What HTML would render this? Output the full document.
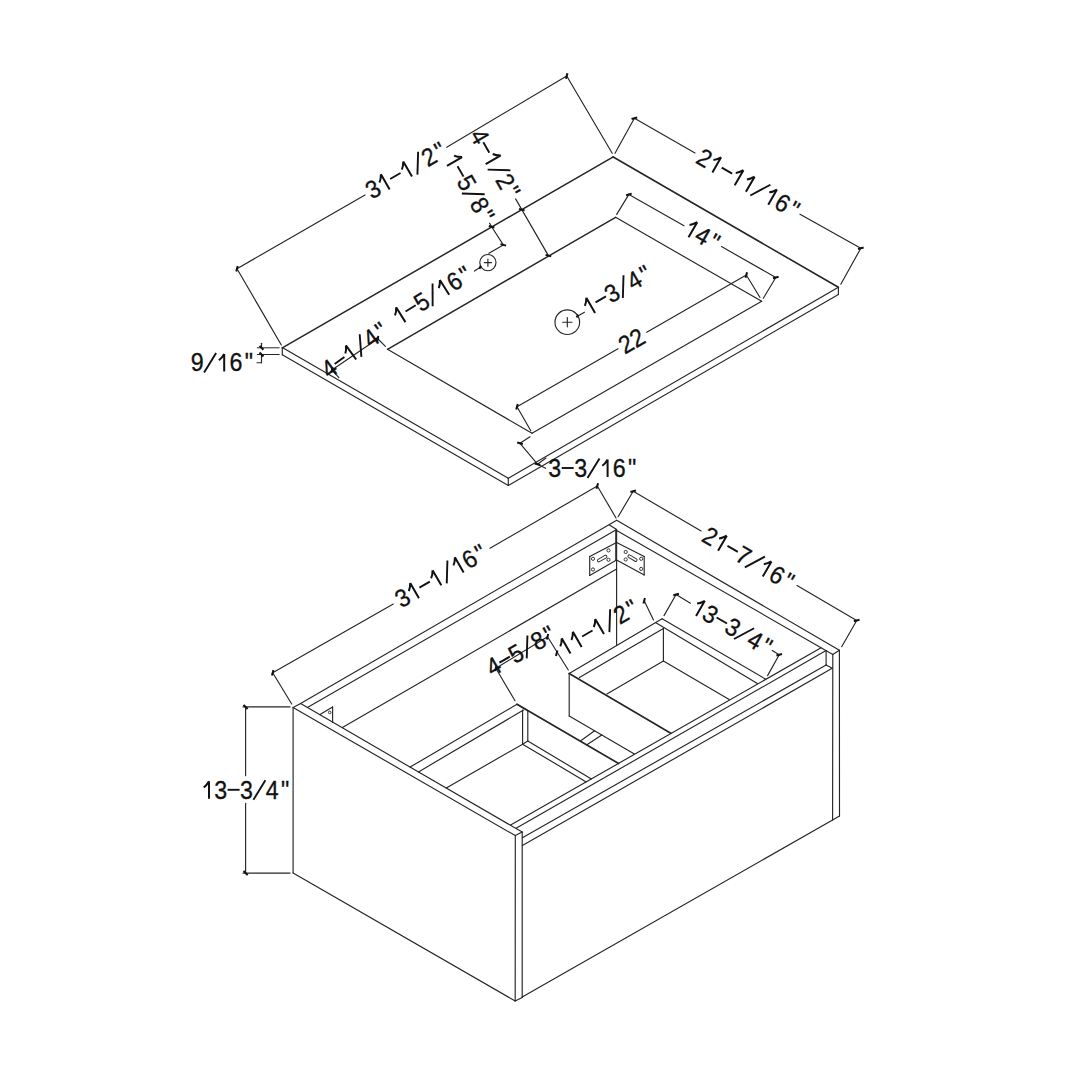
<!DOCTYPE html><html><head><meta charset="utf-8"><style>html,body{margin:0;padding:0;background:#fff;width:1080px;height:1080px;overflow:hidden}svg{display:block}text{font-family:"Liberation Sans",sans-serif;fill:#111;stroke:#111;stroke-width:0.3px}</style></head><body>
<svg width="1080" height="1080" viewBox="0 0 1080 1080">
<rect width="1080" height="1080" fill="#fff"/>
<g stroke="#262626" stroke-width="1.15" stroke-linecap="round" fill="none">
<line x1="282.30" y1="347.90" x2="612.80" y2="157.10" stroke-width="1.50"/>
<line x1="612.80" y1="156.80" x2="838.40" y2="287.30" stroke-width="1.60"/>
<line x1="282.30" y1="347.60" x2="508.30" y2="478.30"/>
<line x1="508.30" y1="478.30" x2="838.40" y2="287.30"/>
<line x1="282.30" y1="347.60" x2="282.30" y2="354.80"/>
<line x1="282.30" y1="354.80" x2="508.30" y2="485.50"/>
<line x1="508.30" y1="478.30" x2="508.30" y2="485.50"/>
<line x1="508.30" y1="485.50" x2="838.40" y2="294.50"/>
<line x1="838.40" y1="287.30" x2="838.40" y2="294.50"/>
<line x1="387.50" y1="349.30" x2="615.60" y2="217.30" stroke-width="1.45"/>
<line x1="615.60" y1="217.30" x2="761.70" y2="301.30"/>
<line x1="761.70" y1="301.30" x2="532.00" y2="433.30"/>
<line x1="532.00" y1="433.30" x2="387.50" y2="349.30"/>
<line x1="484.30" y1="262.60" x2="491.50" y2="262.60"/>
<line x1="487.90" y1="259.00" x2="487.90" y2="266.20"/>
<line x1="562.70" y1="322.20" x2="571.90" y2="322.20"/>
<line x1="567.30" y1="317.60" x2="567.30" y2="326.80"/>
<line x1="237.00" y1="268.70" x2="365.00" y2="195.00"/>
<line x1="446.70" y1="147.30" x2="566.70" y2="76.00"/>
<line x1="281.30" y1="345.00" x2="237.00" y2="268.70"/>
<line x1="566.70" y1="76.00" x2="612.20" y2="153.30"/>
<line x1="634.40" y1="118.20" x2="695.00" y2="153.00"/>
<line x1="800.00" y1="214.20" x2="860.80" y2="248.30"/>
<line x1="615.00" y1="153.30" x2="634.40" y2="118.20"/>
<line x1="860.80" y1="248.30" x2="840.80" y2="284.20"/>
<line x1="548.40" y1="255.60" x2="515.60" y2="198.90"/>
<line x1="491.60" y1="226.70" x2="503.30" y2="244.90"/>
<line x1="503.30" y1="244.90" x2="488.90" y2="253.30"/>
<line x1="491.60" y1="226.70" x2="489.60" y2="223.20"/>
<line x1="481.10" y1="266.70" x2="474.40" y2="271.10"/>
<line x1="576.70" y1="316.70" x2="584.40" y2="312.20"/>
<line x1="628.90" y1="194.40" x2="684.00" y2="225.80"/>
<line x1="721.50" y1="246.60" x2="775.80" y2="277.50"/>
<line x1="616.70" y1="214.40" x2="628.90" y2="194.40"/>
<line x1="775.80" y1="277.50" x2="763.30" y2="298.30"/>
<line x1="517.00" y1="406.70" x2="618.00" y2="348.80"/>
<line x1="646.70" y1="332.20" x2="746.30" y2="275.00"/>
<line x1="530.80" y1="430.80" x2="517.00" y2="406.70"/>
<line x1="746.30" y1="275.00" x2="760.00" y2="297.50"/>
<line x1="520.00" y1="443.30" x2="530.00" y2="436.70"/>
<line x1="520.00" y1="443.30" x2="537.50" y2="464.20"/>
<line x1="537.50" y1="464.20" x2="546.00" y2="458.00"/>
<line x1="537.50" y1="464.20" x2="545.60" y2="468.30"/>
<line x1="257.30" y1="347.80" x2="279.20" y2="347.80" stroke-width="1.00"/>
<line x1="257.30" y1="354.50" x2="279.20" y2="354.50" stroke-width="1.00"/>
<line x1="261.50" y1="343.30" x2="261.50" y2="347.80"/>
<line x1="261.50" y1="354.50" x2="261.50" y2="362.70"/>
<line x1="257.00" y1="362.70" x2="261.50" y2="362.70"/>
<line x1="331.90" y1="370.00" x2="377.80" y2="338.75"/>
<line x1="331.90" y1="370.00" x2="338.90" y2="377.60"/>
<line x1="377.80" y1="338.75" x2="385.40" y2="346.40"/>
<line x1="293.10" y1="707.50" x2="293.10" y2="873.00"/>
<line x1="293.10" y1="873.00" x2="515.20" y2="1001.00"/>
<line x1="293.10" y1="707.50" x2="515.30" y2="835.60"/>
<line x1="293.10" y1="707.50" x2="300.60" y2="703.60"/>
<line x1="300.60" y1="703.60" x2="522.20" y2="832.10"/>
<line x1="515.30" y1="835.60" x2="522.20" y2="832.10"/>
<line x1="515.30" y1="835.60" x2="515.20" y2="1001.00"/>
<line x1="522.20" y1="832.10" x2="522.20" y2="997.50"/>
<line x1="515.20" y1="1001.00" x2="522.20" y2="997.50"/>
<line x1="522.20" y1="997.00" x2="832.60" y2="820.00"/>
<line x1="839.40" y1="650.20" x2="839.50" y2="816.10"/>
<line x1="832.80" y1="654.40" x2="832.60" y2="820.00"/>
<line x1="832.60" y1="820.00" x2="839.50" y2="816.10"/>
<line x1="839.40" y1="650.20" x2="832.80" y2="654.40"/>
<line x1="616.70" y1="520.30" x2="839.40" y2="650.20"/>
<line x1="615.80" y1="530.00" x2="832.80" y2="654.40"/>
<line x1="300.60" y1="703.60" x2="616.70" y2="520.30"/>
<line x1="307.40" y1="707.50" x2="615.80" y2="530.00"/>
<line x1="342.40" y1="727.60" x2="616.60" y2="568.90"/>
<line x1="616.60" y1="530.00" x2="616.60" y2="645.50"/>
<line x1="609.40" y1="525.00" x2="616.70" y2="529.40"/>
<line x1="615.50" y1="530.00" x2="615.50" y2="560.00" stroke-width="0.80"/>
<line x1="826.10" y1="650.60" x2="826.10" y2="665.00"/>
<line x1="510.60" y1="825.00" x2="821.10" y2="647.80"/>
<line x1="516.10" y1="828.30" x2="826.10" y2="650.60"/>
<line x1="522.40" y1="837.80" x2="826.10" y2="665.00"/>
<line x1="522.40" y1="845.60" x2="832.20" y2="668.30"/>
<line x1="826.10" y1="665.00" x2="832.20" y2="668.30"/>
<line x1="320.00" y1="714.60" x2="332.60" y2="706.90"/>
<line x1="332.60" y1="706.90" x2="332.60" y2="722.40"/>
<line x1="410.10" y1="767.10" x2="517.00" y2="704.30"/>
<line x1="418.50" y1="771.90" x2="523.50" y2="710.00"/>
<line x1="446.30" y1="787.90" x2="522.60" y2="744.20"/>
<line x1="522.60" y1="710.10" x2="522.60" y2="744.20"/>
<line x1="527.80" y1="710.70" x2="527.80" y2="741.00"/>
<line x1="517.00" y1="704.30" x2="618.60" y2="763.50" stroke-width="1.70"/>
<line x1="522.60" y1="744.20" x2="586.20" y2="781.90"/>
<line x1="527.80" y1="741.00" x2="591.40" y2="779.00"/>
<line x1="522.60" y1="744.20" x2="527.80" y2="741.00"/>
<line x1="517.00" y1="704.30" x2="527.80" y2="710.70"/>
<line x1="569.20" y1="673.50" x2="569.20" y2="716.00"/>
<line x1="569.20" y1="716.00" x2="634.40" y2="754.00"/>
<line x1="569.20" y1="673.50" x2="670.80" y2="733.20" stroke-width="1.70"/>
<line x1="569.20" y1="673.50" x2="662.10" y2="618.80"/>
<line x1="579.40" y1="677.60" x2="663.40" y2="628.50"/>
<line x1="662.10" y1="618.80" x2="765.70" y2="679.20"/>
<line x1="655.90" y1="622.70" x2="757.40" y2="683.50"/>
<line x1="663.40" y1="628.50" x2="663.40" y2="661.00"/>
<line x1="663.40" y1="661.00" x2="606.90" y2="694.00"/>
<line x1="663.40" y1="661.00" x2="729.20" y2="699.50"/>
<line x1="580.40" y1="741.00" x2="594.60" y2="730.80"/>
<line x1="586.90" y1="744.80" x2="601.80" y2="734.90"/>
<line x1="568.30" y1="670.00" x2="547.50" y2="636.70"/>
<line x1="495.80" y1="668.30" x2="547.50" y2="636.70"/>
<line x1="495.80" y1="668.30" x2="515.00" y2="700.80"/>
<line x1="644.20" y1="600.80" x2="653.50" y2="620.00"/>
<line x1="676.10" y1="594.50" x2="690.40" y2="603.20"/>
<line x1="772.20" y1="650.60" x2="779.20" y2="654.80"/>
<line x1="664.00" y1="615.60" x2="676.10" y2="594.50"/>
<line x1="779.20" y1="654.80" x2="767.60" y2="675.60"/>
<line x1="272.70" y1="672.70" x2="393.30" y2="604.00"/>
<line x1="490.00" y1="548.30" x2="597.30" y2="486.00"/>
<line x1="291.70" y1="704.00" x2="272.70" y2="672.70"/>
<line x1="597.30" y1="486.00" x2="616.00" y2="518.00"/>
<line x1="633.20" y1="491.30" x2="701.10" y2="530.90"/>
<line x1="797.00" y1="585.40" x2="856.70" y2="620.50"/>
<line x1="618.10" y1="516.70" x2="633.20" y2="491.30"/>
<line x1="856.70" y1="620.50" x2="841.70" y2="646.70"/>
<line x1="245.60" y1="706.90" x2="245.60" y2="775.70"/>
<line x1="245.60" y1="803.20" x2="245.60" y2="873.10"/>
<line x1="243.00" y1="706.90" x2="290.00" y2="706.90"/>
<line x1="243.00" y1="873.10" x2="290.00" y2="873.10"/>
<line x1="616.60" y1="542.60" x2="589.70" y2="556.60"/>
<line x1="589.70" y1="556.60" x2="589.70" y2="575.40"/>
<line x1="589.70" y1="575.40" x2="616.60" y2="560.10"/>
<line x1="616.60" y1="542.60" x2="644.20" y2="556.60"/>
<line x1="644.20" y1="556.60" x2="644.20" y2="575.00"/>
<line x1="644.20" y1="575.00" x2="616.60" y2="560.10"/>
</g>
<g stroke-width="1.15">
<circle cx="487.90" cy="262.60" r="8.10" fill="none" stroke="#262626" stroke-width="1.15"/>
<circle cx="567.30" cy="322.20" r="12.30" fill="none" stroke="#262626" stroke-width="1.15"/>
<line x1="236.26" y1="271.51" x2="237.74" y2="265.89" stroke="#111" stroke-width="2.00" stroke-linecap="butt"/>
<line x1="565.96" y1="78.81" x2="567.44" y2="73.19" stroke="#111" stroke-width="2.00" stroke-linecap="butt"/>
<g transform="translate(406.50 169.50) rotate(-30.0)"><text transform="translate(-38.70 8.90) scale(0.93 1)" text-anchor="middle" font-size="25">3</text><path d="M-24.60 8.90 L-24.60 -8.60 M-24.60 -8.60 Q-27.00 -4.30 -29.90 -2.30" fill="none" stroke="#111" stroke-width="2.0" stroke-linecap="butt"/><line x1="-18.90" y1="0" x2="-6.90" y2="0" stroke="#111" stroke-width="1.9"/><path d="M1.20 8.90 L1.20 -8.60 M1.20 -8.60 Q-1.20 -4.30 -4.10 -2.30" fill="none" stroke="#111" stroke-width="2.0" stroke-linecap="butt"/><line x1="6.90" y1="9.90" x2="18.90" y2="-9.50" stroke="#111" stroke-width="1.9"/><text transform="translate(25.80 8.90) scale(0.93 1)" text-anchor="middle" font-size="25">2</text><text transform="translate(38.70 8.90) scale(0.93 1)" text-anchor="middle" font-size="25">"</text></g>
<line x1="631.60" y1="118.96" x2="637.20" y2="117.44" stroke="#111" stroke-width="2.00" stroke-linecap="butt"/>
<line x1="858.00" y1="249.06" x2="863.60" y2="247.54" stroke="#111" stroke-width="2.00" stroke-linecap="butt"/>
<g transform="translate(749.30 183.50) rotate(30.0)"><text transform="translate(-51.60 8.90) scale(0.93 1)" text-anchor="middle" font-size="25">2</text><path d="M-37.50 8.90 L-37.50 -8.60 M-37.50 -8.60 Q-39.90 -4.30 -42.80 -2.30" fill="none" stroke="#111" stroke-width="2.0" stroke-linecap="butt"/><line x1="-31.80" y1="0" x2="-19.80" y2="0" stroke="#111" stroke-width="1.9"/><path d="M-11.70 8.90 L-11.70 -8.60 M-11.70 -8.60 Q-14.10 -4.30 -17.00 -2.30" fill="none" stroke="#111" stroke-width="2.0" stroke-linecap="butt"/><path d="M1.20 8.90 L1.20 -8.60 M1.20 -8.60 Q-1.20 -4.30 -4.10 -2.30" fill="none" stroke="#111" stroke-width="2.0" stroke-linecap="butt"/><line x1="6.90" y1="9.90" x2="18.90" y2="-9.50" stroke="#111" stroke-width="1.9"/><path d="M27.00 8.90 L27.00 -8.60 M27.00 -8.60 Q24.60 -4.30 21.70 -2.30" fill="none" stroke="#111" stroke-width="2.0" stroke-linecap="butt"/><text transform="translate(38.70 8.90) scale(0.93 1)" text-anchor="middle" font-size="25">6</text><text transform="translate(51.60 8.90) scale(0.93 1)" text-anchor="middle" font-size="25">"</text></g>
<line x1="519.00" y1="208.85" x2="524.60" y2="210.35" stroke="#111" stroke-width="2.00" stroke-linecap="butt"/>
<line x1="545.60" y1="254.85" x2="551.20" y2="256.35" stroke="#111" stroke-width="2.00" stroke-linecap="butt"/>
<g transform="translate(496.00 164.30) rotate(60.0)"><text transform="translate(-32.25 8.90) scale(0.93 1)" text-anchor="middle" font-size="25">4</text><line x1="-25.35" y1="0" x2="-13.35" y2="0" stroke="#111" stroke-width="1.9"/><path d="M-5.25 8.90 L-5.25 -8.60 M-5.25 -8.60 Q-7.65 -4.30 -10.55 -2.30" fill="none" stroke="#111" stroke-width="2.0" stroke-linecap="butt"/><line x1="0.45" y1="9.90" x2="12.45" y2="-9.50" stroke="#111" stroke-width="1.9"/><text transform="translate(19.35 8.90) scale(0.93 1)" text-anchor="middle" font-size="25">2</text><text transform="translate(32.25 8.90) scale(0.93 1)" text-anchor="middle" font-size="25">"</text></g>
<line x1="488.80" y1="225.95" x2="494.40" y2="227.45" stroke="#111" stroke-width="2.00" stroke-linecap="butt"/>
<line x1="500.50" y1="244.15" x2="506.10" y2="245.65" stroke="#111" stroke-width="2.00" stroke-linecap="butt"/>
<g transform="translate(470.20 188.20) rotate(60.0)"><path d="M-31.05 8.90 L-31.05 -8.60 M-31.05 -8.60 Q-33.45 -4.30 -36.35 -2.30" fill="none" stroke="#111" stroke-width="2.0" stroke-linecap="butt"/><line x1="-25.35" y1="0" x2="-13.35" y2="0" stroke="#111" stroke-width="1.9"/><text transform="translate(-6.45 8.90) scale(0.93 1)" text-anchor="middle" font-size="25">5</text><line x1="0.45" y1="9.90" x2="12.45" y2="-9.50" stroke="#111" stroke-width="1.9"/><text transform="translate(19.35 8.90) scale(0.93 1)" text-anchor="middle" font-size="25">8</text><text transform="translate(32.25 8.90) scale(0.93 1)" text-anchor="middle" font-size="25">"</text></g>
<line x1="479.61" y1="268.95" x2="480.39" y2="266.05" stroke="#111" stroke-width="2.00" stroke-linecap="butt"/>
<g transform="translate(432.50 294.70) rotate(-32.0)"><path d="M-37.50 8.90 L-37.50 -8.60 M-37.50 -8.60 Q-39.90 -4.30 -42.80 -2.30" fill="none" stroke="#111" stroke-width="2.0" stroke-linecap="butt"/><line x1="-31.80" y1="0" x2="-19.80" y2="0" stroke="#111" stroke-width="1.9"/><text transform="translate(-12.90 8.90) scale(0.93 1)" text-anchor="middle" font-size="25">5</text><line x1="-6.00" y1="9.90" x2="6.00" y2="-9.50" stroke="#111" stroke-width="1.9"/><path d="M14.10 8.90 L14.10 -8.60 M14.10 -8.60 Q11.70 -4.30 8.80 -2.30" fill="none" stroke="#111" stroke-width="2.0" stroke-linecap="butt"/><text transform="translate(25.80 8.90) scale(0.93 1)" text-anchor="middle" font-size="25">6</text><text transform="translate(38.70 8.90) scale(0.93 1)" text-anchor="middle" font-size="25">"</text></g>
<line x1="577.11" y1="317.45" x2="577.89" y2="314.55" stroke="#111" stroke-width="2.00" stroke-linecap="butt"/>
<g transform="translate(617.50 289.70) rotate(-30.0)"><path d="M-31.05 8.90 L-31.05 -8.60 M-31.05 -8.60 Q-33.45 -4.30 -36.35 -2.30" fill="none" stroke="#111" stroke-width="2.0" stroke-linecap="butt"/><line x1="-25.35" y1="0" x2="-13.35" y2="0" stroke="#111" stroke-width="1.9"/><text transform="translate(-6.45 8.90) scale(0.93 1)" text-anchor="middle" font-size="25">3</text><line x1="0.45" y1="9.90" x2="12.45" y2="-9.50" stroke="#111" stroke-width="1.9"/><text transform="translate(19.35 8.90) scale(0.93 1)" text-anchor="middle" font-size="25">4</text><text transform="translate(32.25 8.90) scale(0.93 1)" text-anchor="middle" font-size="25">"</text></g>
<line x1="626.11" y1="195.18" x2="631.69" y2="193.62" stroke="#111" stroke-width="2.00" stroke-linecap="butt"/>
<line x1="773.01" y1="278.28" x2="778.59" y2="276.72" stroke="#111" stroke-width="2.00" stroke-linecap="butt"/>
<g transform="translate(703.10 235.50) rotate(30.0)"><path d="M-11.70 8.90 L-11.70 -8.60 M-11.70 -8.60 Q-14.10 -4.30 -17.00 -2.30" fill="none" stroke="#111" stroke-width="2.0" stroke-linecap="butt"/><text transform="translate(0.00 8.90) scale(0.93 1)" text-anchor="middle" font-size="25">4</text><text transform="translate(12.90 8.90) scale(0.93 1)" text-anchor="middle" font-size="25">"</text></g>
<line x1="516.24" y1="409.50" x2="517.76" y2="403.90" stroke="#111" stroke-width="2.00" stroke-linecap="butt"/>
<line x1="745.54" y1="277.80" x2="747.06" y2="272.20" stroke="#111" stroke-width="2.00" stroke-linecap="butt"/>
<g transform="translate(631.50 340.70) rotate(-30.0)"><text transform="translate(-6.45 8.90) scale(0.93 1)" text-anchor="middle" font-size="25">2</text><text transform="translate(6.45 8.90) scale(0.93 1)" text-anchor="middle" font-size="25">2</text></g>
<line x1="517.20" y1="442.55" x2="522.80" y2="444.05" stroke="#111" stroke-width="2.00" stroke-linecap="butt"/>
<line x1="534.70" y1="463.45" x2="540.30" y2="464.95" stroke="#111" stroke-width="2.00" stroke-linecap="butt"/>
<g transform="translate(593.50 468.00) rotate(0.0)"><text transform="translate(-38.70 8.90) scale(0.93 1)" text-anchor="middle" font-size="25">3</text><line x1="-31.80" y1="0" x2="-19.80" y2="0" stroke="#111" stroke-width="1.9"/><text transform="translate(-12.90 8.90) scale(0.93 1)" text-anchor="middle" font-size="25">3</text><line x1="-6.00" y1="9.90" x2="6.00" y2="-9.50" stroke="#111" stroke-width="1.9"/><path d="M14.10 8.90 L14.10 -8.60 M14.10 -8.60 Q11.70 -4.30 8.80 -2.30" fill="none" stroke="#111" stroke-width="2.0" stroke-linecap="butt"/><text transform="translate(25.80 8.90) scale(0.93 1)" text-anchor="middle" font-size="25">6</text><text transform="translate(38.70 8.90) scale(0.93 1)" text-anchor="middle" font-size="25">"</text></g>
<line x1="259.56" y1="345.86" x2="263.44" y2="349.74" stroke="#111" stroke-width="2.00" stroke-linecap="butt"/>
<line x1="259.56" y1="352.56" x2="263.44" y2="356.44" stroke="#111" stroke-width="2.00" stroke-linecap="butt"/>
<g transform="translate(223.00 362.50) rotate(0.0)"><text transform="translate(-25.80 8.90) scale(0.93 1)" text-anchor="middle" font-size="25">9</text><line x1="-18.90" y1="9.90" x2="-6.90" y2="-9.50" stroke="#111" stroke-width="1.9"/><path d="M1.20 8.90 L1.20 -8.60 M1.20 -8.60 Q-1.20 -4.30 -4.10 -2.30" fill="none" stroke="#111" stroke-width="2.0" stroke-linecap="butt"/><text transform="translate(12.90 8.90) scale(0.93 1)" text-anchor="middle" font-size="25">6</text><text transform="translate(25.80 8.90) scale(0.93 1)" text-anchor="middle" font-size="25">"</text></g>
<line x1="331.35" y1="372.85" x2="332.45" y2="367.15" stroke="#111" stroke-width="2.00" stroke-linecap="butt"/>
<line x1="377.25" y1="341.60" x2="378.35" y2="335.90" stroke="#111" stroke-width="2.00" stroke-linecap="butt"/>
<g transform="translate(355.20 349.20) rotate(-36.0)"><text transform="translate(-32.25 8.90) scale(0.93 1)" text-anchor="middle" font-size="25">4</text><line x1="-25.35" y1="0" x2="-13.35" y2="0" stroke="#111" stroke-width="1.9"/><path d="M-5.25 8.90 L-5.25 -8.60 M-5.25 -8.60 Q-7.65 -4.30 -10.55 -2.30" fill="none" stroke="#111" stroke-width="2.0" stroke-linecap="butt"/><line x1="0.45" y1="9.90" x2="12.45" y2="-9.50" stroke="#111" stroke-width="1.9"/><text transform="translate(19.35 8.90) scale(0.93 1)" text-anchor="middle" font-size="25">4</text><text transform="translate(32.25 8.90) scale(0.93 1)" text-anchor="middle" font-size="25">"</text></g>
<circle cx="329.7" cy="712.4" r="1.3" fill="none" stroke="#262626" stroke-width="0.9"/>
<line x1="555.95" y1="656.10" x2="557.45" y2="650.50" stroke="#111" stroke-width="2.00" stroke-linecap="butt"/>
<line x1="546.75" y1="639.50" x2="548.25" y2="633.90" stroke="#111" stroke-width="2.00" stroke-linecap="butt"/>
<line x1="495.05" y1="671.10" x2="496.55" y2="665.50" stroke="#111" stroke-width="2.00" stroke-linecap="butt"/>
<g transform="translate(521.40 650.00) rotate(-30.0)"><text transform="translate(-32.25 8.90) scale(0.93 1)" text-anchor="middle" font-size="25">4</text><line x1="-25.35" y1="0" x2="-13.35" y2="0" stroke="#111" stroke-width="1.9"/><text transform="translate(-6.45 8.90) scale(0.93 1)" text-anchor="middle" font-size="25">5</text><line x1="0.45" y1="9.90" x2="12.45" y2="-9.50" stroke="#111" stroke-width="1.9"/><text transform="translate(19.35 8.90) scale(0.93 1)" text-anchor="middle" font-size="25">8</text><text transform="translate(32.25 8.90) scale(0.93 1)" text-anchor="middle" font-size="25">"</text></g>
<line x1="643.45" y1="603.60" x2="644.95" y2="598.00" stroke="#111" stroke-width="2.00" stroke-linecap="butt"/>
<g transform="translate(598.50 627.00) rotate(-30.0)"><path d="M-37.50 8.90 L-37.50 -8.60 M-37.50 -8.60 Q-39.90 -4.30 -42.80 -2.30" fill="none" stroke="#111" stroke-width="2.0" stroke-linecap="butt"/><path d="M-24.60 8.90 L-24.60 -8.60 M-24.60 -8.60 Q-27.00 -4.30 -29.90 -2.30" fill="none" stroke="#111" stroke-width="2.0" stroke-linecap="butt"/><line x1="-18.90" y1="0" x2="-6.90" y2="0" stroke="#111" stroke-width="1.9"/><path d="M1.20 8.90 L1.20 -8.60 M1.20 -8.60 Q-1.20 -4.30 -4.10 -2.30" fill="none" stroke="#111" stroke-width="2.0" stroke-linecap="butt"/><line x1="6.90" y1="9.90" x2="18.90" y2="-9.50" stroke="#111" stroke-width="1.9"/><text transform="translate(25.80 8.90) scale(0.93 1)" text-anchor="middle" font-size="25">2</text><text transform="translate(38.70 8.90) scale(0.93 1)" text-anchor="middle" font-size="25">"</text></g>
<line x1="673.29" y1="595.23" x2="678.91" y2="593.77" stroke="#111" stroke-width="2.00" stroke-linecap="butt"/>
<line x1="776.39" y1="655.53" x2="782.01" y2="654.07" stroke="#111" stroke-width="2.00" stroke-linecap="butt"/>
<g transform="translate(733.00 627.00) rotate(30.0)"><path d="M-37.50 8.90 L-37.50 -8.60 M-37.50 -8.60 Q-39.90 -4.30 -42.80 -2.30" fill="none" stroke="#111" stroke-width="2.0" stroke-linecap="butt"/><text transform="translate(-25.80 8.90) scale(0.93 1)" text-anchor="middle" font-size="25">3</text><line x1="-18.90" y1="0" x2="-6.90" y2="0" stroke="#111" stroke-width="1.9"/><text transform="translate(0.00 8.90) scale(0.93 1)" text-anchor="middle" font-size="25">3</text><line x1="6.90" y1="9.90" x2="18.90" y2="-9.50" stroke="#111" stroke-width="1.9"/><text transform="translate(25.80 8.90) scale(0.93 1)" text-anchor="middle" font-size="25">4</text><text transform="translate(38.70 8.90) scale(0.93 1)" text-anchor="middle" font-size="25">"</text></g>
<line x1="271.94" y1="675.50" x2="273.46" y2="669.90" stroke="#111" stroke-width="2.00" stroke-linecap="butt"/>
<line x1="596.54" y1="488.80" x2="598.06" y2="483.20" stroke="#111" stroke-width="2.00" stroke-linecap="butt"/>
<g transform="translate(441.40 575.00) rotate(-30.0)"><text transform="translate(-45.15 8.90) scale(0.93 1)" text-anchor="middle" font-size="25">3</text><path d="M-31.05 8.90 L-31.05 -8.60 M-31.05 -8.60 Q-33.45 -4.30 -36.35 -2.30" fill="none" stroke="#111" stroke-width="2.0" stroke-linecap="butt"/><line x1="-25.35" y1="0" x2="-13.35" y2="0" stroke="#111" stroke-width="1.9"/><path d="M-5.25 8.90 L-5.25 -8.60 M-5.25 -8.60 Q-7.65 -4.30 -10.55 -2.30" fill="none" stroke="#111" stroke-width="2.0" stroke-linecap="butt"/><line x1="0.45" y1="9.90" x2="12.45" y2="-9.50" stroke="#111" stroke-width="1.9"/><path d="M20.55 8.90 L20.55 -8.60 M20.55 -8.60 Q18.15 -4.30 15.25 -2.30" fill="none" stroke="#111" stroke-width="2.0" stroke-linecap="butt"/><text transform="translate(32.25 8.90) scale(0.93 1)" text-anchor="middle" font-size="25">6</text><text transform="translate(45.15 8.90) scale(0.93 1)" text-anchor="middle" font-size="25">"</text></g>
<line x1="630.40" y1="492.05" x2="636.00" y2="490.55" stroke="#111" stroke-width="2.00" stroke-linecap="butt"/>
<line x1="853.90" y1="621.25" x2="859.50" y2="619.75" stroke="#111" stroke-width="2.00" stroke-linecap="butt"/>
<g transform="translate(749.40 558.60) rotate(30.0)"><text transform="translate(-45.15 8.90) scale(0.93 1)" text-anchor="middle" font-size="25">2</text><path d="M-31.05 8.90 L-31.05 -8.60 M-31.05 -8.60 Q-33.45 -4.30 -36.35 -2.30" fill="none" stroke="#111" stroke-width="2.0" stroke-linecap="butt"/><line x1="-25.35" y1="0" x2="-13.35" y2="0" stroke="#111" stroke-width="1.9"/><text transform="translate(-6.45 8.90) scale(0.93 1)" text-anchor="middle" font-size="25">7</text><line x1="0.45" y1="9.90" x2="12.45" y2="-9.50" stroke="#111" stroke-width="1.9"/><path d="M20.55 8.90 L20.55 -8.60 M20.55 -8.60 Q18.15 -4.30 15.25 -2.30" fill="none" stroke="#111" stroke-width="2.0" stroke-linecap="butt"/><text transform="translate(32.25 8.90) scale(0.93 1)" text-anchor="middle" font-size="25">6</text><text transform="translate(45.15 8.90) scale(0.93 1)" text-anchor="middle" font-size="25">"</text></g>
<line x1="243.55" y1="704.85" x2="247.65" y2="708.95" stroke="#111" stroke-width="2.00" stroke-linecap="butt"/>
<line x1="243.55" y1="871.05" x2="247.65" y2="875.15" stroke="#111" stroke-width="2.00" stroke-linecap="butt"/>
<g transform="translate(246.50 789.80) rotate(0.0)"><path d="M-37.50 8.90 L-37.50 -8.60 M-37.50 -8.60 Q-39.90 -4.30 -42.80 -2.30" fill="none" stroke="#111" stroke-width="2.0" stroke-linecap="butt"/><text transform="translate(-25.80 8.90) scale(0.93 1)" text-anchor="middle" font-size="25">3</text><line x1="-18.90" y1="0" x2="-6.90" y2="0" stroke="#111" stroke-width="1.9"/><text transform="translate(0.00 8.90) scale(0.93 1)" text-anchor="middle" font-size="25">3</text><line x1="6.90" y1="9.90" x2="18.90" y2="-9.50" stroke="#111" stroke-width="1.9"/><text transform="translate(25.80 8.90) scale(0.93 1)" text-anchor="middle" font-size="25">4</text><text transform="translate(38.70 8.90) scale(0.93 1)" text-anchor="middle" font-size="25">"</text></g>
<circle cx="593.0" cy="558.8" r="1.6" fill="none" stroke="#262626" stroke-width="0.9"/>
<circle cx="593.0" cy="569.5" r="1.6" fill="none" stroke="#262626" stroke-width="0.9"/>
<circle cx="608.5" cy="550.4" r="1.6" fill="none" stroke="#262626" stroke-width="0.9"/>
<circle cx="608.5" cy="559.8" r="1.6" fill="none" stroke="#262626" stroke-width="0.9"/>
<circle cx="625.7" cy="552.0" r="1.6" fill="none" stroke="#262626" stroke-width="0.9"/>
<circle cx="625.7" cy="559.5" r="1.6" fill="none" stroke="#262626" stroke-width="0.9"/>
<circle cx="641.2" cy="558.8" r="1.6" fill="none" stroke="#262626" stroke-width="0.9"/>
<circle cx="641.2" cy="568.9" r="1.6" fill="none" stroke="#262626" stroke-width="0.9"/>
<line x1="598.8" y1="560.5" x2="605.6" y2="556.6" stroke="#262626" stroke-width="3.6" stroke-linecap="round"/>
<line x1="598.8" y1="560.5" x2="605.6" y2="556.6" stroke="#fff" stroke-width="1.8" stroke-linecap="round"/>
<line x1="629.3" y1="556.2" x2="635.7" y2="560.1" stroke="#262626" stroke-width="3.6" stroke-linecap="round"/>
<line x1="629.3" y1="556.2" x2="635.7" y2="560.1" stroke="#fff" stroke-width="1.8" stroke-linecap="round"/>
</g>
</svg></body></html>
